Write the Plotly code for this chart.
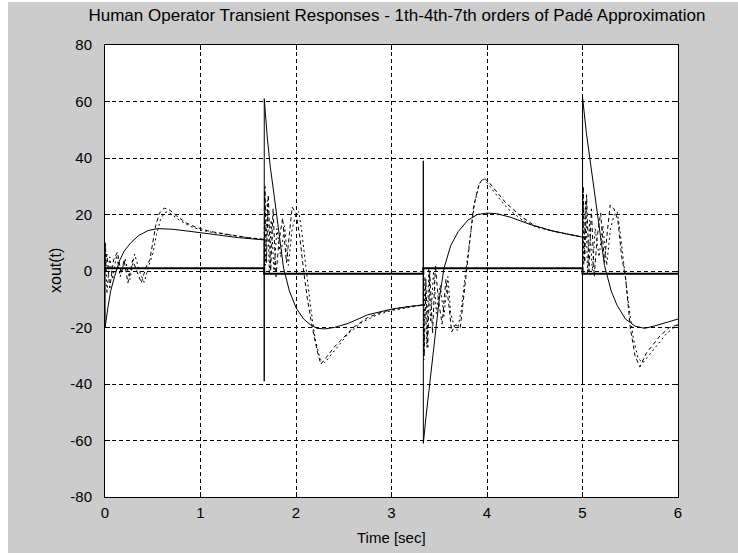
import plotly.graph_objects as go

# ---------------- data ----------------
x_ticks = [0, 1, 2, 3, 4, 5, 6]
y_ticks = [-80, -60, -40, -20, 0, 20, 40, 60, 80]

# square-wave input
t_in = [0, 1.667, 1.667, 3.333, 3.333, 5.0, 5.0, 6.0]
u_in = [1, 1, -1, -1, 1, 1, -1, -1]

# 1st order Pade (solid)
t_p1 = [0, 0.0005, 0.001, 0.03, 0.06, 0.1, 0.15, 0.2, 0.27, 0.35, 0.45, 0.55, 0.7, 0.85, 1.0, 1.2, 1.4, 1.667,
        1.6672, 1.6675, 1.70, 1.73, 1.77, 1.82, 1.87, 1.93, 2.0, 2.08, 2.15, 2.22, 2.3, 2.4, 2.55, 2.75, 3.0, 3.2, 3.333,
        3.3332, 3.3335, 3.36, 3.40, 3.45, 3.50, 3.55, 3.62, 3.7, 3.8, 3.9, 4.0, 4.1, 4.25, 4.45, 4.65, 4.85, 5.0,
        5.0002, 5.0005, 5.04, 5.08, 5.13, 5.18, 5.23, 5.3, 5.36, 5.45, 5.55, 5.65, 5.75, 5.9, 6.0]
y_p1 = [0, 10, -20, -13, -7, -2, 3.5, 7, 10, 12.5, 14.3, 15, 14.8, 14.2, 13.5, 12.6, 11.8, 11,
        -39, 61, 47, 37, 27, 13, 1, -7, -13, -17, -19, -20.3, -20.5, -20, -18.5, -15.5, -13.5, -12.5, -12,
        39, -61, -52, -40, -24, -10, 1, 9, 14, 18, 20, 20.5, 20.3, 19, 16.5, 14.5, 13, 12,
        -39, 61.5, 49, 39, 26, 13, 2, -7, -12, -17, -19.5, -20.3, -19.5, -18, -17]

# 4th order Pade (dashed)
t_p4 = [0, 0.02, 0.05, 0.09, 0.13, 0.17, 0.20, 0.24, 0.29, 0.33, 0.38, 0.43, 0.47, 0.50, 0.53, 0.57,
        0.62, 0.68, 0.75, 0.85, 0.95, 1.1, 1.3, 1.5, 1.667,
        1.668, 1.675, 1.69, 1.71, 1.735, 1.76, 1.79, 1.82, 1.86, 1.90, 1.93, 1.96, 2.0, 2.04, 2.08,
        2.12, 2.17, 2.22, 2.26, 2.33, 2.4, 2.47, 2.6, 2.75, 2.9, 3.1, 3.333,
        3.334, 3.342, 3.36, 3.38, 3.40, 3.43, 3.46, 3.49, 3.53, 3.57, 3.60, 3.63, 3.67, 3.72, 3.76,
        3.8, 3.86, 3.92, 3.97, 4.03, 4.1, 4.2, 4.35, 4.5, 4.7, 5.0,
        5.001, 5.008, 5.023, 5.043, 5.068, 5.093, 5.123, 5.153, 5.19, 5.23, 5.26, 5.29, 5.33, 5.37,
        5.41, 5.45, 5.5, 5.55, 5.6, 5.67, 5.74, 5.81, 5.91, 6.0]
y_p4 = [0, 6, -6, 4, 6.7, -1, 3.9, -4.2, 3.9, 0, -4.2, 1.4, 4, 10, 16, 20.5,
        22.3, 21.5, 19.5, 17, 15.5, 14, 12.8, 11.8, 11.2,
        0, 30, 3, 27, 0, 22, -2, 10, 18.8, 3, 12, 22.6, 20.5, 12, 0,
        -10, -20, -28, -33, -30, -27, -24.5, -20, -16.5, -14.5, -13, -12,
        0, -30, -3, -27, 0, -22, 2, -10, -18.8, -3, -12, -21.6, -19, -20, -8,
        5, 23, 31, 33, 31, 28, 24, 19.5, 16, 14, 12,
        0, 30, 3, 27, 0, 22, -2, 12, 20.5, 3, 14, 23.4, 22, 18,
        5, -2, -20, -30, -34, -29, -26, -23, -20, -19]

# 7th order Pade (dotted)
t_p7 = [0, 0.005, 0.02, 0.05, 0.08, 0.12, 0.16, 0.21, 0.26, 0.31, 0.36, 0.41, 0.46, 0.5, 0.54, 0.58,
        0.62, 0.65, 0.7, 0.78, 0.88, 1.0, 1.15, 1.35, 1.5, 1.667,
        1.672, 1.68, 1.70, 1.72, 1.74, 1.77, 1.80, 1.84, 1.88, 1.92, 1.96, 2.0, 2.03,
        2.06, 2.1, 2.15, 2.2, 2.25, 2.3, 2.36, 2.45, 2.55, 2.7, 2.85, 3.0, 3.333,
        3.338, 3.35, 3.37, 3.39, 3.41, 3.44, 3.47, 3.51, 3.55, 3.59, 3.62, 3.66, 3.69,
        3.73, 3.77, 3.82, 3.87, 3.92, 3.97, 4.03, 4.12, 4.22, 4.37, 4.52, 4.7, 5.0,
        5.005, 5.013, 5.033, 5.053, 5.073, 5.103, 5.133, 5.173, 5.213, 5.253, 5.293,
        5.333, 5.363, 5.393, 5.433, 5.483, 5.533, 5.583, 5.633, 5.693, 5.783, 5.883, 6.0]
y_p7 = [0, 10, -8, 5, -3, 5.6, -2, 4.5, -3, 6, 0, -4, 2, 6, 13, 18,
        20.5, 21, 20, 18, 16, 14.5, 13.5, 12.5, 11.8, 11.2,
        28, 2, 25, -1, 18, 0, 15, 5, 16, 2, 15, 20, 21,
        14, 2, -12, -24, -31, -32.5, -30, -26, -22, -18, -15.5, -14, -12,
        -31.5, -2, -27, 1, -18, 0, -15, -5, -16, -2, -15, -20, -21,
        -14, -2, 12, 24, 31, 32.5, 30, 26, 22, 18, 15.5, 14, 12,
        28, 2, 25, -1, 18, 0, 15, 5, 16, 2, 15,
        20, 21, 14, 2, -12, -24, -31, -32.5, -30, -26, -22, -19]

title_text = "Human Operator Transient Responses - 1th-4th-7th orders of Padé Approximation"
x_label = "Time [sec]"
y_label = "xout(t)"

# ---------------- figure ----------------
W, H = 738, 555
ML, MR, MT, MB = 105, 60, 45, 58
PW, PH = W - ML - MR, H - MT - MB
FONT = "Liberation Sans, Arial, sans-serif"

fig = go.Figure()
fig.add_trace(go.Scatter(x=t_in, y=u_in, mode="lines", line=dict(color="black", width=2)))
fig.add_trace(go.Scatter(x=t_p1, y=y_p1, mode="lines", line=dict(color="black", width=1)))
fig.add_trace(go.Scatter(x=t_p4, y=y_p4, mode="lines", line=dict(color="black", width=1, dash="4px,3px")))
fig.add_trace(go.Scatter(x=t_p7, y=y_p7, mode="lines", line=dict(color="black", width=1, dash="2px,3px")))

def px_x(p):
    return (p - ML) / PW

def px_y(p):
    return (H - MB - p) / PH

shapes = [
    # grey figure background (white strip at left/top/bottom like the reference)
    dict(type="rect", xref="paper", yref="paper", x0=px_x(8), x1=px_x(W + 5),
         y0=px_y(553), y1=px_y(2), fillcolor="#cccccc", line=dict(width=0), layer="below"),
    # white axes area
    dict(type="rect", xref="paper", yref="paper", x0=0, x1=1, y0=0, y1=1,
         fillcolor="white", line=dict(width=0), layer="below"),
]

fig.update_layout(
    width=W, height=H,
    margin=dict(l=ML, r=MR, t=MT, b=MB, pad=0),
    paper_bgcolor="white", plot_bgcolor="white",
    showlegend=False,
    shapes=shapes,
    font=dict(family=FONT, size=15, color="black"),
    title=dict(text=title_text, x=px_x(397), xanchor="center", xref="paper",
               y=1 - 15 / H, yanchor="middle", yref="container",
               font=dict(family=FONT, size=17, color="black")),
    annotations=[
        dict(text=x_label, xref="paper", yref="paper", x=0.5, y=px_y(537),
             xanchor="center", yanchor="middle", showarrow=False,
             font=dict(family=FONT, size=15, color="black")),
        dict(text=y_label, xref="paper", yref="paper", x=px_x(55), y=0.5,
             xanchor="center", yanchor="middle", showarrow=False, textangle=-90,
             font=dict(family=FONT, size=16, color="black")),
    ],
)
fig.update_xaxes(range=[0, 6], tickvals=x_ticks, ticktext=[str(v) for v in x_ticks],
                 showline=True, linecolor="black", linewidth=1, mirror="allticks",
                 ticks="inside", ticklen=5, tickcolor="black", ticklabelstandoff=2,
                 showgrid=True, gridcolor="black", gridwidth=1, griddash="4px,3px",
                 zeroline=False, tickfont=dict(family=FONT, size=15, color="black"))
fig.update_yaxes(range=[-80, 80], tickvals=y_ticks, ticktext=[str(v) for v in y_ticks],
                 showline=True, linecolor="black", linewidth=1, mirror="allticks",
                 ticks="inside", ticklen=5, tickcolor="black", ticklabelstandoff=9,
                 showgrid=True, gridcolor="black", gridwidth=1, griddash="4px,3px",
                 zeroline=False, tickfont=dict(family=FONT, size=15, color="black"))

fig.write_html("out.html")
